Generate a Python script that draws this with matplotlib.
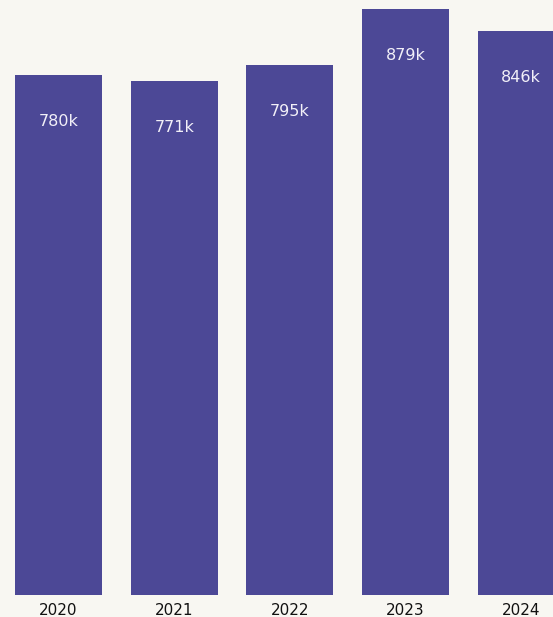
import numpy as np
import matplotlib.pyplot as plt

years = ['2020', '2021', '2022', '2023', '2024']
values = [780, 771, 795, 879, 846]   # thousands
labels = ['780k', '771k', '795k', '879k', '846k']

bg = '#f8f7f2'
bar_color = '#4c4896'

fig = plt.figure(figsize=(5.53, 6.17), dpi=100, facecolor=bg)
ax = fig.add_axes([0, 22/617, 1, 595/617])
ax.set_facecolor(bg)

x = np.arange(len(years))
ax.bar(x, values, width=0.752, color=bar_color)

# labels inside bar tops
for xi, v, lab in zip(x, values, labels):
    ax.annotate(lab, (xi, v), xytext=(0, -46), textcoords='offset pixels',
                ha='center', va='center', color='#f2f0f8', fontsize=11.5)

ax.set_xlim(-0.5056, 4.274)
ax.set_ylim(0, 892.5)
ax.set_xticks(x)
ax.set_xticklabels(years, fontsize=11, color='#111111')
ax.tick_params(axis='x', length=0, pad=5.5)
ax.set_yticks([])
for s in ax.spines.values():
    s.set_visible(False)

fig.savefig('out.png', dpi=100, facecolor=bg)
